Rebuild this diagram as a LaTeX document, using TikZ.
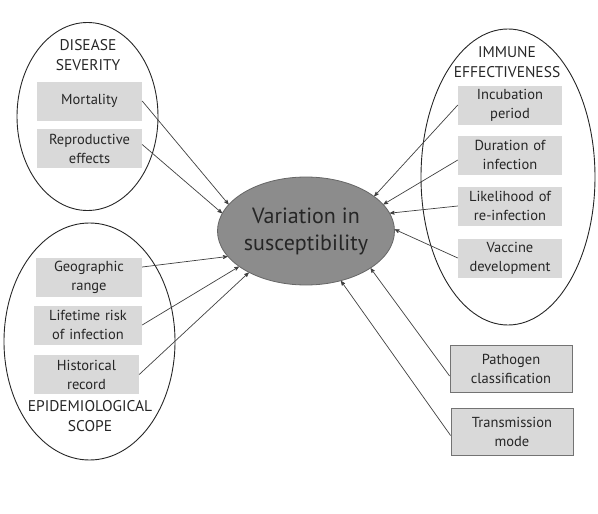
\documentclass[tikz,border=0pt]{standalone}
\usepackage{fontspec}
\setmainfont{PT Sans}
\usetikzlibrary{arrows,shapes.geometric}

\begin{document}
\begin{tikzpicture}[x=1pt,y=-1pt,>=stealth',
    every node/.style={text=black!85,font=\fontsize{14.5}{19}\selectfont},
    group/.style 2 args={ellipse,draw=black!85,line width=0.9pt,inner sep=0pt,
      minimum width=#1,minimum height=#2},
    head/.style={align=center,inner sep=0pt,font=\fontsize{15.5}{19.5}\selectfont},
    factor/.style={fill=black!15,text width=#1,align=center,inner sep=2pt,minimum height=39},
    outfactor/.style={factor=#1,draw=black!55,line width=0.8pt},
    link/.style={->,black!75,line width=0.7pt}]
      \useasboundingbox (0,0) rectangle (598,514);
      % the three groups
      \node[group={141}{188}] (sev) at (87.5,116.5) {};
      \node[group={171}{237}] (epi) at (89.5,341.5) {};
      \node[group={174}{296}] (imm) at (508,177) {};
      \node[head] (sevlab) at (88,55) {DISEASE\\SEVERITY};
      \node[head] (epilab) at (90,416) {EPIDEMIOLOGICAL\\SCOPE};
      \node[head] (immlab) at (507,62) {IMMUNE\\EFFECTIVENESS};
      % centre
      \node[ellipse,fill=black!45,draw=black!60,line width=0.8pt,inner sep=0pt,
        minimum width=177,minimum height=108,align=center,
        font=\fontsize{22}{27}\selectfont] (var) at (306,231) {Variation in\\susceptibility};
      % factors
      \node[factor=101] (mort) at (89.5,101) {Mortality};
      \node[factor=101] (repr) at (89.5,148.5) {Reproductive\\effects};
      \node[factor=102] (geo) at (89,277) {Geographic\\range};
      \node[factor=104] (life) at (88,325) {Lifetime risk\\of infection};
      \node[factor=101] (hist) at (86.5,374.5) {Historical\\record};
      \node[factor=100] (incub) at (510,105) {Incubation\\period};
      \node[factor=100] (dur) at (510,155) {Duration of\\infection};
      \node[factor=100] (like) at (510,206) {Likelihood of\\re-infection};
      \node[factor=100] (vacc) at (510,258) {Vaccine\\development};
      \node[outfactor=118,minimum height=47] (path) at (511,369) {Pathogen\\classification};
      \node[outfactor=118,minimum height=47] (trans) at (512,431.5) {Transmission\\mode};
      % arrows
      \path[link] (mort.east) edge (var.161);
      \path[link] ([yshift=4]repr.east) edge (var.168);
      \path[link] ([yshift=10]geo.east) edge (var.198);
      \path[link] (life.east) edge (var.208);
      \path[link] (hist.east) edge (var.216);
      \path[link] (incub.west) edge (var.27);
      \path[link] ([yshift=-5]dur.west) edge (var.19);
      \path[link] (like.west) edge (var.12);
      \path[link] (vacc.west) edge (var.1);
      \path[link] ([yshift=-7]path.west) edge (var.330);
      \path[link] ([yshift=-4]trans.west) edge (var.305);
\end{tikzpicture}
\end{document}
